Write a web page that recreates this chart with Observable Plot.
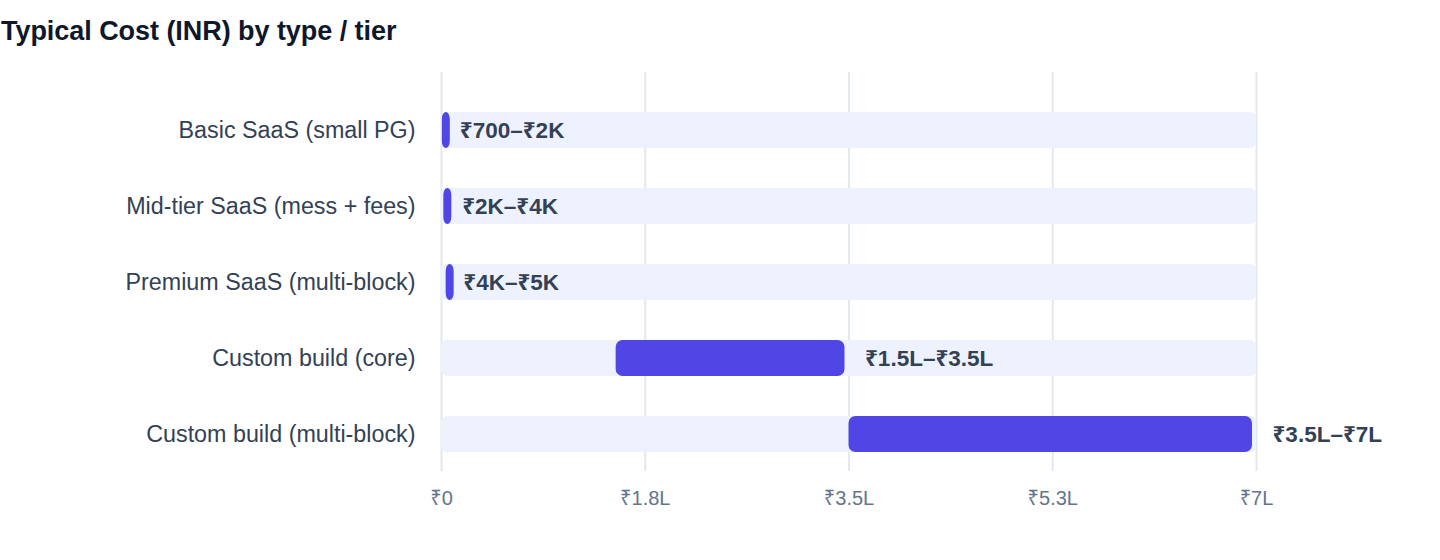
<!DOCTYPE html>
<html>
<head>
<meta charset="utf-8">
<script src="https://cdn.jsdelivr.net/npm/d3@7"></script>
<script src="https://cdn.jsdelivr.net/npm/@observablehq/plot@0.6"></script>
<style>
  body { margin: 0; background: #fff; font-family: "Liberation Sans", Arial, "Noto Sans", sans-serif; }
  #title { margin: 16px 0 4px 1px; height: 30px; line-height: 30px; font-size: 27px; font-weight: bold; color: #0f172a; letter-spacing: -0.05px; }
</style>
</head>
<body>
<div id="title">Typical Cost (INR) by type / tier</div>
<div id="chart"></div>
<script>
const categories = [
  "Basic SaaS (small PG)",
  "Mid-tier SaaS (mess + fees)",
  "Premium SaaS (multi-block)",
  "Custom build (core)",
  "Custom build (multi-block)"
];
const lowValues = [700, 2000, 4000, 150000, 350000];
const highValues = [2000, 4000, 5000, 350000, 700000];
const rangeLabels = ["₹700–₹2K", "₹2K–₹4K", "₹4K–₹5K", "₹1.5L–₹3.5L", "₹3.5L–₹7L"];
const trackMax = 700000;
const tickValues = [0, 175000, 350000, 525000, 700000];
const tickLabels = ["₹0", "₹1.8L", "₹3.5L", "₹5.3L", "₹7L"];

const width = 1440, marginLeft = 441, marginRight = 184;
const plotW = width - marginLeft - marginRight;
// minimum visible bar width (12px incl. 4px inset) expressed in data units
const minSpan = 12 / plotW * trackMax;

const data = categories.map((c, i) => ({
  cat: c, lo: lowValues[i], hi: highValues[i],
  end: Math.max(highValues[i], lowValues[i] + minSpan),
  label: rangeLabels[i]
}));

const chart = Plot.plot({
  width, height: 510,
  marginLeft, marginRight, marginTop: 22, marginBottom: 89,
  style: { fontFamily: '"Liberation Sans", Arial, "Noto Sans", sans-serif', background: "transparent" },
  x: { domain: [0, trackMax], ticks: tickValues, label: null },
  y: { domain: categories, paddingInner: 0.5263, paddingOuter: 0.388, align: 0.678, label: null },
  marks: [
    Plot.gridX(tickValues, { stroke: "#e2e8f0", strokeOpacity: 1, strokeWidth: 2 }),
    Plot.barX(data, { y: "cat", x1: () => 0, x2: () => trackMax, fill: "#eef1fe", rx: 6 }),
    Plot.barX(data, { y: "cat", x1: "lo", x2: "end", insetRight: 4, fill: "#4f46e5", rx: 7 }),
    Plot.text(data, { y: "cat", x: "hi", text: "label", dx: 16, textAnchor: "start", fill: "#334155", fontSize: 22.5, fontWeight: "bold" }),
    Plot.axisY({ tickSize: 0, tickPadding: 26, fontSize: 23.3, color: "#334155", label: null }),
    Plot.axisX(tickValues, { tickSize: 0, tickPadding: 19, fontSize: 20, color: "#64748b", tickFormat: (d) => tickLabels[tickValues.indexOf(d)], label: null })
  ]
});
document.getElementById("chart").appendChild(chart);
</script>
</body>
</html>
